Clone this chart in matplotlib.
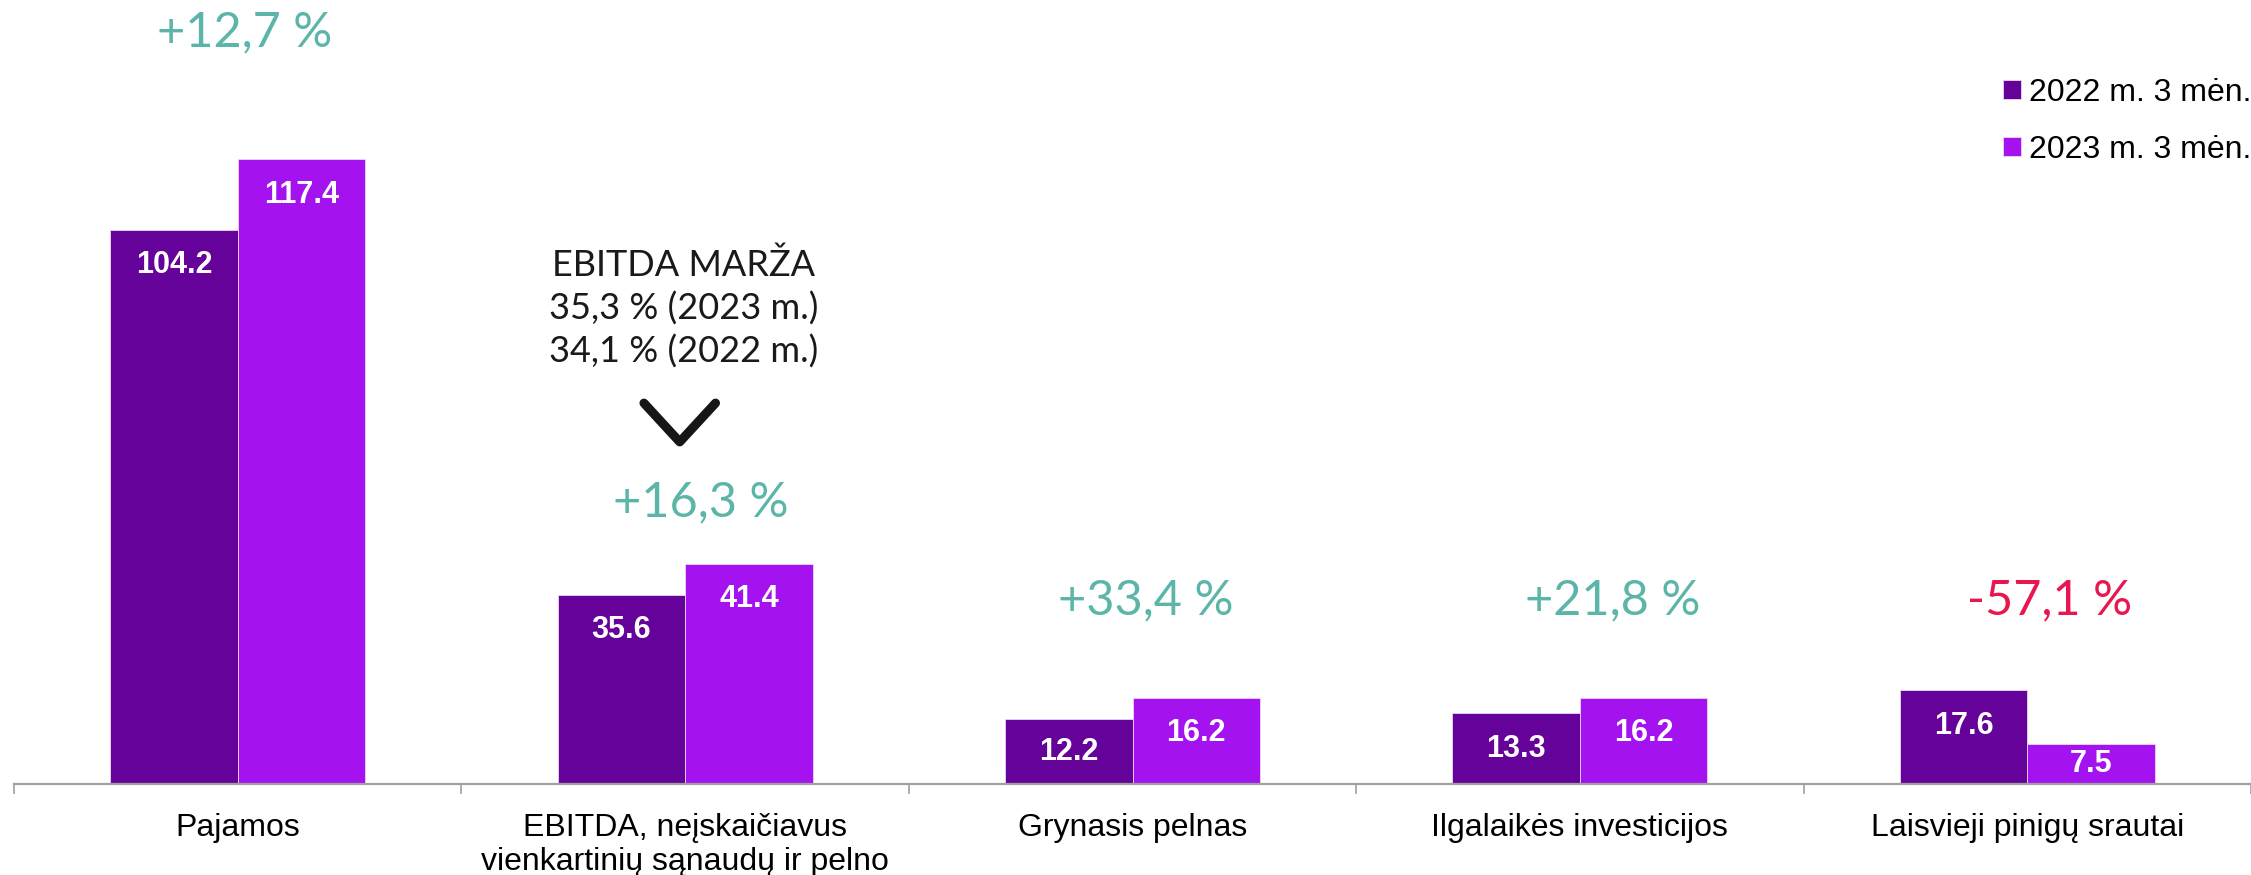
import numpy as np
from matplotlib import pyplot as plt
import matplotlib

matplotlib.rcParams['font.family'] = ['Liberation Sans', 'DejaVu Sans']
matplotlib.rcParams['font.size'] = 23

#%% Data
categories = ['Pajamos',
              'EBITDA, neįskaičiavus\nvienkartinių sąnaudų ir pelno',
              'Grynasis pelnas',
              'Ilgalaikės investicijos',
              'Laisvieji pinigų srautai']
v2022 = [104.2, 35.6, 12.2, 13.3, 17.6]
v2023 = [117.4, 41.4, 16.2, 16.2, 7.5]
changes = ['+12,7 %', '+16,3 %', '+33,4 %', '+21,8 %', '-57,1 %']
series_names = ['2022 m. 3 mėn.', '2023 m. 3 mėn.']
margin_text = 'EBITDA MARŽA\n35,3 % (2023 m.)\n34,1 % (2022 m.)'

#%% Style
c22 = '#650299'
c23 = '#A512F0'
c_up = '#5BB5A8'
c_down = '#E8174F'
thin = 'Lato'

W, H = 2251, 875
px_unit = 5.32   # pixels per data unit
cat_px = 450.5   # pixels per category
x0, base = 14, 784

fig = plt.figure(figsize=(W/100, H/100), dpi=100)
ax = fig.add_axes([x0/W, (H-base)/H, (W-x0)/W, base/H])
ax.set_xlim(-0.5, -0.5+(W-x0)/cat_px)
ax.set_ylim(0, base/px_unit)

x = np.arange(len(categories))
bw = 0.285
b1 = ax.bar(x-bw/2, v2022, bw, color=c22, edgecolor='#E8D8F5', linewidth=0.6, label=series_names[0])
b2 = ax.bar(x+bw/2, v2023, bw, color=c23, edgecolor='#E8D8F5', linewidth=0.6, label=series_names[1])

# value labels inside bars
for bars in (b1, b2):
    for r in bars:
        h = r.get_height()
        cx = r.get_x()+r.get_width()/2
        if h*px_unit > 66:
            ax.annotate('%.1f' % h, (cx, h), xytext=(0, -25.5), textcoords='offset points',
                        ha='center', va='center', color='white', fontweight='bold', fontsize=22)
        else:
            ax.text(cx, h/2, '%.1f' % h, ha='center', va='center', color='white',
                    fontweight='bold', fontsize=22)

# change labels
change_y = [141.2, 53.0, 34.6, 34.6, 34.6]
change_dx = [0.015, 0.035, 0.03, 0.073, 0.05]
for i, s in enumerate(changes):
    col = c_down if s.startswith('-') else c_up
    ax.text(i+change_dx[i], change_y[i], s, ha='center', va='center', color=col,
            fontsize=35, family=thin)

# EBITDA margin note and chevron
ax.text(0.996, 89.4, margin_text, ha='center', va='center', fontsize=26, family=thin,
        color='#1a1a1a', linespacing=1.32)
cx = 0.988
ax.plot([cx-0.08, cx, cx+0.08], [71.6, 64.3, 71.6], color='#161616', lw=6.5,
        solid_capstyle='round', solid_joinstyle='round')

# axes
for s in ['left', 'top', 'right']:
    ax.spines[s].set_visible(False)
ax.spines['bottom'].set_color('#A0A0A0')
ax.spines['bottom'].set_linewidth(1.6)
ax.set_yticks([])
ax.set_xticks(np.arange(-0.5, len(categories)), [])
ax.tick_params(axis='x', which='major', length=7.5, width=1.2, color='#A0A0A0')
ax.set_xticks(x, categories, minor=True)
ax.tick_params(axis='x', which='minor', length=0, pad=21, labelsize=23)
for lab in ax.get_xticklabels(minor=True):
    lab.set_linespacing(1.15)

leg = ax.legend(loc='upper right', bbox_to_anchor=(1.0, 1-78/H), bbox_transform=fig.transFigure,
                frameon=False, fontsize=23, handlelength=0.55, handleheight=0.55,
                handletextpad=0.25, labelspacing=0.85, borderpad=0, borderaxespad=0)

fig.savefig('out.png', dpi=100)
